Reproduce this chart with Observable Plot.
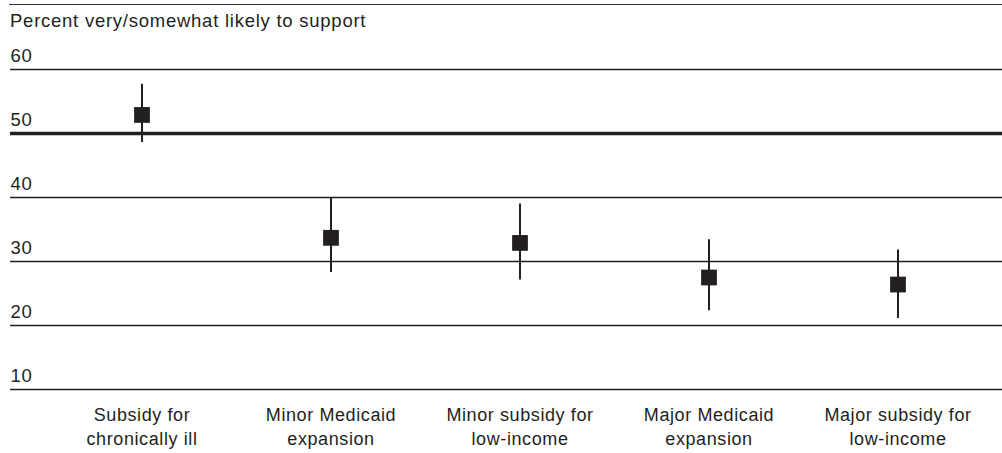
<!DOCTYPE html>
<html>
<head>
<meta charset="utf-8">
<script src="https://cdn.jsdelivr.net/npm/d3@7"></script>
<script src="https://cdn.jsdelivr.net/npm/@observablehq/plot@0.6"></script>
<style>
  html, body { margin: 0; padding: 0; background: #fff; }
  body { width: 1002px; height: 453px; overflow: hidden; font-family: "Liberation Sans", Arial, sans-serif; color: #231f20; }
  #rule { position: absolute; left: 9px; right: 0; top: 4px; height: 0; border-top: 1.5px solid #333; }
  #title { position: absolute; left: 10px; top: 11px; font-size: 18.5px; line-height: 20px; letter-spacing: 0.75px; color: #231f20; }
  #chart { position: absolute; left: 0; top: 35px; }
</style>
</head>
<body>
<div id="rule"></div>
<div id="title">Percent very/somewhat likely to support</div>
<div id="chart"></div>
<script>
// Policy options and their support estimates with confidence intervals
const categories = [
  "Subsidy for\nchronically ill",
  "Minor Medicaid\nexpansion",
  "Minor subsidy for\nlow-income",
  "Major Medicaid\nexpansion",
  "Major subsidy for\nlow-income"
];
const estimate = [52.9, 33.7, 32.9, 27.5, 26.4];
const low = [48.6, 28.3, 27.1, 22.3, 21.1];
const high = [57.7, 40.0, 39.0, 33.4, 31.8];
const yTicks = [10, 20, 30, 40, 60];
const referenceLine = [50];

const ink = "#231f20";
const font = "'Liberation Sans', Arial, sans-serif";
const rows = categories.map((c, i) => ({category: c, estimate: estimate[i], low: low[i], high: high[i]}));

const chart = Plot.plot({
  width: 1002,
  height: 418,
  marginTop: 34,
  marginBottom: 64,
  marginLeft: 10,
  marginRight: 0,
  style: {fontFamily: font, color: ink, background: "#fff", letterSpacing: "0.6px"},
  x: {type: "band", domain: categories, paddingInner: 0, paddingOuter: 0.1174, align: 0.79, axis: null},
  y: {domain: [10, 60], axis: null},
  marks: [
    // horizontal gridlines across the full width
    Plot.ruleY(yTicks, {stroke: ink, strokeWidth: 1.6}),
    Plot.ruleY(referenceLine, {stroke: ink, strokeWidth: 3.6}),
    // y tick labels sitting above their gridlines
    Plot.text([...yTicks, ...referenceLine], {
      y: d => d, text: d => String(d), frameAnchor: "left",
      textAnchor: "start", lineAnchor: "bottom", dy: -8, fontSize: 18.5, fill: ink
    }),
    // confidence intervals
    Plot.ruleX(rows, {x: "category", y1: "low", y2: "high", stroke: ink, strokeWidth: 2}),
    // point estimates
    Plot.dot(rows, {x: "category", y: "estimate", symbol: "square", r: 8.9, fill: ink, stroke: "none"}),
    // category labels below the plot
    Plot.text(categories, {
      x: d => d, text: d => d, frameAnchor: "bottom",
      lineAnchor: "top", dy: 14, fontSize: 18, lineHeight: 1.34, fill: ink
    })
  ]
});
document.getElementById("chart").appendChild(chart);
</script>
</body>
</html>
